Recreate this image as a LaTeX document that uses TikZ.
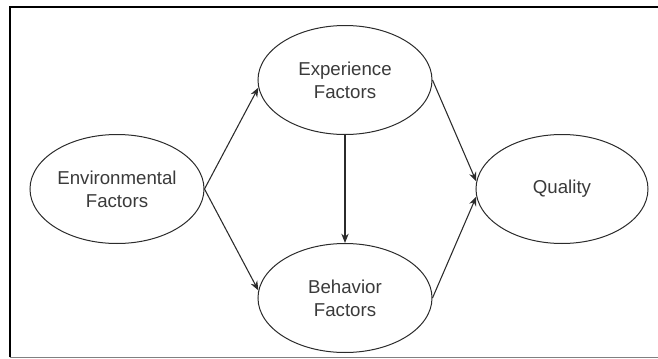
\documentclass[tikz,border=0pt]{standalone}
\usepackage{fontspec}
\setmainfont{Liberation Sans}
\usetikzlibrary{positioning,arrows.meta,shapes.geometric}

\definecolor{inkgray}{HTML}{2B2B2B}
\definecolor{textgray}{HTML}{3A3A3A}

\tikzset{
  factor/.style={ellipse, draw=inkgray, line width=0.75pt, inner sep=0pt,
    minimum width=130.5pt, minimum height=81.75pt, align=center,
    text=textgray, font=\fontsize{14}{17.25}\selectfont},
  link/.style={-{Stealth[length=7pt,width=5.5pt]}, draw=inkgray, line width=0.8pt}
}

\begin{document}
\begin{tikzpicture}[node distance=171pt and 81.75pt, on grid]

    % Rahmen
    \useasboundingbox (-87.75pt,-126.75pt) rectangle (405.75pt,141.75pt);
    \draw[gray, line width=0.8pt] (-80.25pt,-126.3pt) -- (407.25pt,-126.3pt);
    \draw[black, line width=1.5pt] (-80.25pt,-126.3pt) -- (-80.25pt,136.5pt) -- (407.25pt,136.5pt);

    % Knoten
    \node[factor] (env) {Environmental\\Factors};
    \node[factor, above right=81.75pt and 171pt of env] (exp) {Experience\\Factors};
    \node[factor, below right=81.75pt and 171pt of env] (beh) {Behavior\\Factors};
    \node[factor, right=333.75pt of env, minimum width=129pt] (qual) {Quality};

    % Pfeile
    \draw[link] (env.east) -- (exp.185);
    \draw[link] (env.east) -- (beh.175);
    \draw[link] (exp.south) -- (beh.north);
    \draw[link] (exp.east) -- (qual.175);
    \draw[link] (beh.east) -- (qual.185);

\end{tikzpicture}
\end{document}
